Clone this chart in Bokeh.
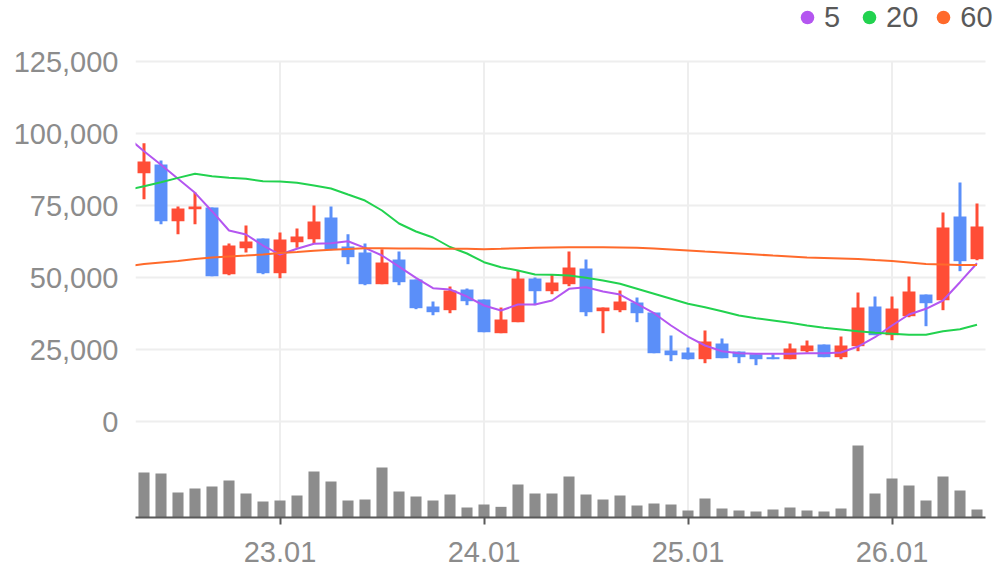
from bokeh.plotting import figure
from bokeh.models import (Range1d, FixedTicker, NumeralTickFormatter, Legend,
                          LegendItem, ColumnDataSource)
from bokeh.embed import file_html
from bokeh.resources import INLINE

# ---------------- data ----------------
months = ["22.05", "22.06", "22.07", "22.08", "22.09", "22.10", "22.11", "22.12",
          "23.01", "23.02", "23.03", "23.04", "23.05", "23.06", "23.07", "23.08",
          "23.09", "23.10", "23.11", "23.12", "24.01", "24.02", "24.03", "24.04",
          "24.05", "24.06", "24.07", "24.08", "24.09", "24.10", "24.11", "24.12",
          "25.01", "25.02", "25.03", "25.04", "25.05", "25.06", "25.07", "25.08",
          "25.09", "25.10", "25.11", "25.12", "26.01", "26.02", "26.03", "26.04",
          "26.05", "26.06"]
tick_labels = ["23.01", "24.01", "25.01", "26.01"]
price_ticks = [0, 25000, 50000, 75000, 100000, 125000]

opens = [86213, 89236, 69553, 73720, 74300, 51150, 60170, 63538, 51490, 62260,
         63300, 70830, 60760, 58680, 47670, 56246, 49300, 39930, 38650, 45830,
         42360, 30660, 34480, 49650, 45240, 47670, 53120, 38300, 38650, 41320,
         37850, 24650, 23960, 21630, 27080, 24300, 23370, 22330, 21630, 24410,
         26730, 22330, 26150, 39930, 29970, 36560, 44090, 42110, 71180, 56350]
closes = [90278, 69553, 73954, 74650, 50450, 61107, 62496, 51490, 63190, 64232,
          69440, 59720, 57050, 47670, 55205, 48370, 39340, 37950, 45480, 41770,
          31000, 35410, 49650, 45240, 48260, 53470, 37950, 39580, 41660, 37600,
          23710, 23020, 21630, 27780, 21980, 22330, 21630, 21630, 25350, 26390,
          22330, 26390, 39580, 29970, 39230, 45140, 41070, 67360, 55660, 67700]
highs = [96627, 90620, 74650, 79510, 74300, 61800, 68050, 63538, 65620, 67010,
         75000, 74650, 65030, 61800, 59820, 59024, 49300, 41664, 46870, 46180,
         42360, 39580, 52430, 50000, 51040, 59020, 56250, 39580, 45480, 43050,
         37850, 29860, 25690, 31600, 28820, 24300, 23370, 23370, 27080, 28120,
         26730, 29510, 44790, 43400, 43400, 50340, 44090, 72560, 82980, 75690]
lows = [77190, 68500, 65030, 68500, 50450, 50800, 58680, 51140, 49750, 60300,
        61700, 59500, 54620, 47320, 47670, 47320, 39000, 36900, 37600, 40380,
        31000, 30660, 34480, 40380, 44200, 46980, 36560, 30660, 37950, 34480,
        23710, 20940, 21500, 20240, 21980, 20240, 19550, 21630, 21630, 23960,
        22330, 21630, 24410, 29970, 28230, 36200, 33090, 38650, 52190, 56000]
volumes = [135, 132, 75, 87, 93, 111, 72, 48, 51, 66,
           138, 108, 51, 54, 150, 78, 63, 51, 69, 30,
           39, 32, 99, 72, 72, 123, 69, 54, 66, 36,
           42, 39, 21, 57, 27, 21, 18, 24, 30, 21,
           18, 27, 216, 72, 117, 96, 51, 123, 81, 24]

# moving averages, first value belongs to the month before the first candle
ma_months = ["22.04"] + months
ma5 = [98800, 93850, 89130, 84270, 79400, 73020, 66320, 64930, 61100, 57980, 59960,
       61700, 61900, 62600, 60300, 57630, 53800, 49890, 46280, 45830, 43400,
       40280, 38540, 40620, 40620, 42010, 46070, 46630, 45140, 44090, 40860,
       37600, 33330, 29510, 26390, 24410, 23710, 23500, 23500, 23500, 23710,
       23710, 23960, 26040, 29270, 33330, 37150, 39130, 42010, 48370, 54960]
ma20 = [80300, 81700, 83090, 84600, 86000, 85170, 84600, 84270, 83430, 83330, 82870,
        81940, 80900, 78800, 76730, 73260, 68750, 65970, 63890, 60590, 58330,
        55310, 53570, 52430, 51040, 50930, 50690, 49890, 48960, 47810, 46070,
        44340, 42600, 40860, 39690, 38300, 36800, 35870, 35070, 34270, 33330,
        32530, 31940, 31350, 30800, 30450, 30100, 30100, 31350, 32050, 33570]
ma60 = [53900, 54690, 55200, 55730, 56420, 56940, 57290, 57630, 57980, 58500, 58850,
        59300, 59600, 59900, 60170, 60170, 60070, 60070, 59960, 59960, 59960,
        59820, 59960, 60130, 60310, 60450, 60520, 60520, 60480, 60420, 60310,
        60070, 59720, 59370, 59020, 58680, 58330, 57980, 57630, 57290, 56940,
        56770, 56590, 56420, 56070, 55730, 55200, 54690, 54510, 54340, 54340]

# ---------------- styles ----------------
UP = "#FF4D36"
DOWN = "#5B8FF9"
C5, C20, C60 = "#B456F0", "#22D24F", "#FF6A2B"
FONT = "Liberation Sans"
LABEL = "#8c8c8c"
GRID = "#eeeeee"

n = len(months)
x = list(range(n))
mx = [i - 1 for i in range(len(ma_months))]
colors = [UP if c >= o else DOWN for o, c in zip(opens, closes)]
src = ColumnDataSource(dict(
    x=x, high=highs, low=lows,
    top=[max(o, c) for o, c in zip(opens, closes)],
    bottom=[min(o, c) for o, c in zip(opens, closes)],
    color=colors, vol=volumes))

X0, X1 = -0.5, n - 0.5          # chart body in x
# frame runs from the canvas top to the volume baseline and to the right edge
p = figure(width=996, height=567, output_backend="svg", toolbar_location=None,
           x_range=Range1d(X0, X1 + 11 / 17),
           y_range=Range1d(-33333, 146181),
           min_border_left=135, min_border_right=0,
           min_border_top=0, min_border_bottom=50)
p.extra_y_ranges = {"vol": Range1d(0, 1551)}
p.outline_line_color = None
p.background_fill_color = "white"

tick_pos = [months.index(t) for t in tick_labels]

# grid lines limited to the chart body
p.segment(x0=tick_pos, x1=tick_pos, y0=[p.y_range.start] * len(tick_pos),
          y1=[max(price_ticks)] * len(tick_pos), line_color=GRID, line_width=2)
p.segment(x0=[X0] * len(price_ticks), x1=[X1] * len(price_ticks),
          y0=price_ticks, y1=price_ticks, line_color=GRID, line_width=2)

# volume
p.vbar(x="x", top="vol", width=0.65, source=src, y_range_name="vol",
       fill_color="#8c8c8c", line_color=None)

# candles
p.segment(x0="x", y0="low", x1="x", y1="high", source=src, line_color="color",
          line_width=3)
p.vbar(x="x", top="top", bottom="bottom", width=0.76, source=src,
       fill_color="color", line_color=None)

# moving averages
p.line(mx, ma5, line_color=C5, line_width=2)
p.line(mx, ma20, line_color=C20, line_width=2)
p.line(mx, ma60, line_color=C60, line_width=2)

# legend dots (renderers placed outside the visible range)
d5 = p.scatter(x=[-10], y=[0], marker="circle", fill_color=C5, line_color=None)
d20 = p.scatter(x=[-10], y=[0], marker="circle", fill_color=C20, line_color=None)
d60 = p.scatter(x=[-10], y=[0], marker="circle", fill_color=C60, line_color=None)
legend = Legend(items=[LegendItem(label="5", renderers=[d5]),
                       LegendItem(label="20", renderers=[d20]),
                       LegendItem(label="60", renderers=[d60])],
                orientation="horizontal", location=(655, 483),
                glyph_width=34, glyph_height=34, label_standoff=0, spacing=8,
                padding=0, margin=0, border_line_color=None,
                background_fill_alpha=0,
                label_text_font=FONT, label_text_font_size="29px",
                label_text_color="#595959")
p.add_layout(legend, "center")

# axes
p.xaxis.bounds = (X0, X1)
p.xaxis.ticker = FixedTicker(ticks=tick_pos)
p.xaxis.major_label_overrides = {i: t for i, t in zip(tick_pos, tick_labels)}
p.xaxis.axis_line_color = "#595959"
p.xaxis.axis_line_width = 2
p.xaxis.major_tick_line_color = "#595959"
p.xaxis.major_tick_line_width = 2
p.xaxis.major_tick_out = 7
p.xaxis.major_tick_in = 0
p.xaxis.minor_tick_line_color = None
p.xaxis.major_label_standoff = 17
p.xaxis.major_label_text_font = FONT
p.xaxis.major_label_text_font_size = "29px"
p.xaxis.major_label_text_color = LABEL

p.yaxis.ticker = FixedTicker(ticks=price_ticks)
p.yaxis.formatter = NumeralTickFormatter(format="0,0")
p.yaxis.axis_line_color = None
p.yaxis.major_tick_line_color = None
p.yaxis.minor_tick_line_color = None
p.yaxis.major_tick_out = 0
p.yaxis.major_tick_in = 0
p.yaxis.major_label_standoff = 17
p.yaxis.major_label_text_font = FONT
p.yaxis.major_label_text_font_size = "29px"
p.yaxis.major_label_text_color = LABEL

p.xgrid.grid_line_color = None
p.ygrid.grid_line_color = None

open("out.html", "w").write(file_html(p, INLINE))
